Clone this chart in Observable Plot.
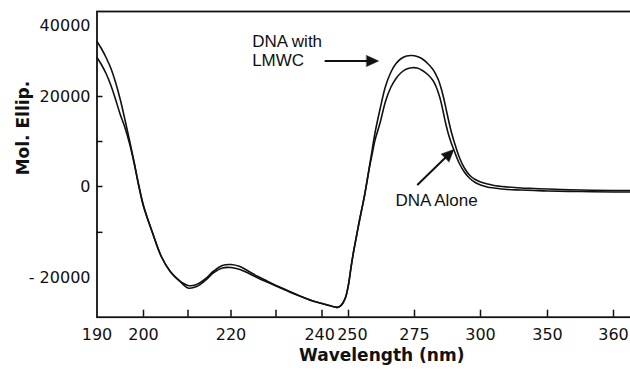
<!DOCTYPE html>
<html><head><meta charset="utf-8">
<script src="https://cdn.jsdelivr.net/npm/d3@7"></script>
<script src="https://cdn.jsdelivr.net/npm/@observablehq/plot@0.6"></script>
<style>
html,body{margin:0;padding:0;background:#fff;overflow:hidden;width:630px;height:374px}
svg{display:block;max-width:none !important;width:640px !important;height:374px !important}
</style>
</head><body><div id="chart"></div>
<script>
// ---- data ----
const wavelength = [190,191,192,193,194,195,196,197,198,199,200,202,204,206,208,210,212,214,216,218,220,222,224,226,228,230,232,234,236,238,240,242,244,245,246,247,248,249,250,251,252,253,254,255,256,257,258,259,260,262,264,266,268,270,272,274,276,278,280,282,283,284,285,286,287,288,289,290,292,294,296,298,300,305,310,320,330,340,350,355,360,363];
const dnaWithLMWC = [35650,33510,30950,27970,23980,19330,14890,10220,5330,220,-4140,-10030,-15270,-18540,-20500,-21590,-21370,-20170,-18430,-17230,-17010,-17450,-18540,-19630,-20610,-21590,-22460,-23340,-24210,-24970,-25520,-25840,-26170,-26280,-26350,-26060,-25300,-23990,-21370,-17450,-13960,-10910,-7850,-5020,-2180,1110,4670,8220,11780,17330,22850,26830,29390,30810,31520,31660,31380,30670,29390,27680,26400,24840,22560,19780,17110,14440,12000,10000,6440,4000,2440,1560,1000,560,220,-110,-330,-440,-550,-760,-870,-870];
const dnaAlone = [31100,28960,26400,23130,19330,16000,13110,9550,5110,0,-4360,-10030,-15270,-18540,-20500,-22140,-21810,-20500,-18760,-17770,-17670,-18100,-18970,-19960,-20830,-21700,-22570,-23450,-24210,-24970,-25520,-25840,-26170,-26280,-26350,-26060,-25300,-23990,-21370,-17450,-13960,-10910,-7850,-5020,-2180,1110,4440,7330,10220,14220,18890,22560,25120,26830,27820,28170,28110,27400,26260,24550,23130,21140,18890,16220,13550,11330,9550,8000,5110,3110,1780,890,330,-110,-330,-650,-760,-870,-980,-1090,-1200,-1200];

const xTickValues = [190,200,210,220,230,240,250,275,300,350,360];
const xLabelTexts = ["190","200","220","240","250","275","300","350","360"];
const xLabelAt = [190,200,220,239.5,251.5,275,300,350,360];
const yLabelValues = [-20000,0,20000,40000];
const yLabelTexts = ["- 20000","0","20000","40000"];
const yTickMarks = [-10000,0,10000,20000];

const noteTexts = ["DNA with\nLMWC","DNA Alone"];
const noteX = [224.7, 267.8];
const noteY = [33090, -2990];
const arrowX1 = [241.3, 276.25];
const arrowY1 = [30100, 440];
const arrowX2 = [261.4, 289.9];
const arrowY2 = [30100, 8220];

// ---- layout (scale config; the original axes are non-uniform) ----
const W = 640, H = 374;
const mTop = 11, mLeft = 96.5, mBottom = 57.3, mRight = 5;
const xRange = [96.5,143,187.5,230.5,275.5,321.5,348,414,480,547,613];
const yDomain = [-20000,0,20000,40000];
const yRange = [277.7,186,96,25.7];

const rows = [];
wavelength.forEach((w,i)=>{
  rows.push({nm:w, v:dnaWithLMWC[i], s:"DNA with LMWC"});
  rows.push({nm:w, v:dnaAlone[i], s:"DNA Alone"});
});
const notes = noteTexts.map((t,i)=>({t, x:noteX[i], y:noteY[i]}));
const xLabels = xLabelTexts.map((t,i)=>({t, x:xLabelAt[i]}));
const xs = d3.scaleLinear().domain(xTickValues).range(xRange);
const ys = d3.scaleLinear().domain(yDomain).range(yRange);
const arrows = arrowX1.map((_,i)=>{
  const dx = xs(arrowX2[i]) - xs(arrowX1[i]);
  const dy = ys(arrowY2[i]) - ys(arrowY1[i]);
  return {x1:arrowX1[i], y1:arrowY1[i], x2:arrowX2[i], y2:arrowY2[i],
          angle: Math.atan2(dx, -dy) * 180 / Math.PI};
});

const frameH = H - mTop - mBottom;
const frameW = W - mLeft - mRight;
const tickFont = "DejaVu Sans, sans-serif";

const spike = {draw(context, l, r){ context.moveTo(-r,0); context.lineTo(0,-l); context.lineTo(r,0); context.closePath(); }};

const chart = Plot.plot({
  width: W, height: H,
  marginTop: mTop, marginLeft: mLeft, marginBottom: mBottom, marginRight: mRight,
  style: {background:"#fff", color:"#000", fontFamily: tickFont, fontSize:"16px", maxWidth:"none"},
  x: {type:"linear", domain: xTickValues, range: xRange, axis: null},
  y: {type:"linear", domain: yDomain, range: yRange, axis: null},
  marks: [
    Plot.frame({stroke:"#111", strokeWidth:1.8}),
    Plot.ruleX(xTickValues.slice(1), {x:d=>d, insetTop: frameH - 7, stroke:"#111", strokeWidth:1.5}),
    Plot.ruleY(yTickMarks, {y:d=>d, insetRight: frameW - 6, stroke:"#111", strokeWidth:1.5}),
    Plot.text(xLabels, {x:"x", text:"t", frameAnchor:"bottom", lineAnchor:"top", dy: 11.5, fontSize:16, fontFamily: tickFont, fill:"#111"}),
    Plot.text(yLabelValues, {y:d=>d, text:(d,i)=>yLabelTexts[i], frameAnchor:"left", textAnchor:"end", dx:-6.5, fontSize:16, fontFamily: tickFont, fill:"#111"}),
    Plot.line(rows, {x:"nm", y:"v", z:"s", stroke:"#111", strokeWidth:1.6, curve:"catmull-rom"}),
    Plot.arrow(arrows, {x1:"x1", y1:"y1", x2:"x2", y2:"y2", headLength:0, insetEnd:8, stroke:"#111", strokeWidth:2}),
    Plot.vector(arrows, {x:"x2", y:"y2", rotate:"angle", length:12, r:5.5, anchor:"end", shape: spike, fill:"#111", stroke:"#111", strokeWidth:0.5}),
    Plot.text(notes, {x:"x", y:"y", text:"t", textAnchor:"start", lineHeight:1.12, fontSize:17, fontFamily:"Liberation Sans, Arial, sans-serif", fill:"#111"}),
    Plot.text(["Wavelength (nm)"], {frameAnchor:"bottom", dx: 15.5, dy: 44, fontSize:17, fontWeight:"bold", fontFamily: tickFont, fill:"#111"}),
    Plot.text(["Mol. Ellip."], {frameAnchor:"left", rotate:-90, dx:-73.5, dy:11, fontSize:17, fontWeight:"bold", fontFamily: tickFont, fill:"#111"})
  ]
});
document.getElementById("chart").appendChild(chart);
</script></body></html>
